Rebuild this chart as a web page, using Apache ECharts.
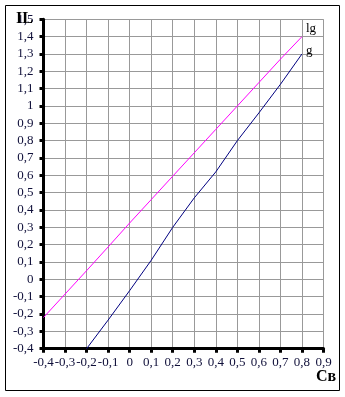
<!DOCTYPE html>
<html><head><meta charset="utf-8">
<script src="https://cdn.jsdelivr.net/npm/echarts@6/dist/echarts.min.js"></script>
<style>html,body{margin:0;padding:0;background:#fff}#c{width:345px;height:397px}</style>
</head><body><div id="c"></div>
<script>
var xLg = [-0.4,-0.3,-0.2,-0.1,0,0.1,0.2,0.3,0.4,0.5,0.6,0.7,0.8];
var lgValues = [-0.22,-0.085,0.05,0.187,0.325,0.46,0.595,0.73,0.865,1.0,1.135,1.27,1.40];
var xG = [-0.2,-0.1,0,0.1,0.2,0.3,0.4,0.5,0.6,0.7,0.8];
var gValues = [-0.4,-0.235,-0.065,0.11,0.30,0.47,0.62,0.80,0.96,1.125,1.30];
var seriesNames = ['lg','g'];
var yTitle = 'IL';
var xTitle = 'Св';

function fmt(v){ var r = Math.round(v*10)/10; return String(r).replace('.', ','); }
function pairs(xs, ys){ return xs.map(function(x,i){ return [x, ys[i]]; }); }

var font = 'Liberation Serif';
var chart = echarts.init(document.getElementById('c'), null, {renderer:'canvas'});
chart.setOption({
  animation:false,
  grid:{left:43.5, top:19.3, width:280, height:329.4, containLabel:false},
  xAxis:{type:'value', min:-0.4, max:0.9, interval:0.1,
    axisLine:{onZero:false, lineStyle:{color:'#000', width:3}},
    axisTick:{show:true, length:4, lineStyle:{color:'#000', width:3}},
    axisLabel:{formatter:fmt, color:'#10103a', fontFamily:font, fontSize:13, margin:7},
    splitLine:{show:true, lineStyle:{color:'#999', width:1}}},
  yAxis:{type:'value', min:-0.4, max:1.5, interval:0.1,
    axisLine:{show:true, onZero:false, lineStyle:{color:'#000', width:3}},
    axisTick:{show:true, length:4, lineStyle:{color:'#000', width:3}},
    axisLabel:{formatter:fmt, color:'#10103a', fontFamily:font, fontSize:13, margin:10},
    splitLine:{show:true, lineStyle:{color:'#999', width:1}}},
  series:[
    {name:seriesNames[0], type:'line', data:pairs(xLg, lgValues), showSymbol:false, symbol:'none',
     lineStyle:{color:'#ff00ff', width:1}, itemStyle:{color:'#ff00ff'},
     endLabel:{show:true, formatter:'{a}', color:'#000', fontFamily:font, fontSize:13, distance:4, offset:[0,-8]}},
    {name:seriesNames[1], type:'line', data:pairs(xG, gValues), showSymbol:false, symbol:'none',
     lineStyle:{color:'#000080', width:1}, itemStyle:{color:'#000080'},
     endLabel:{show:true, formatter:'{a}', color:'#000', fontFamily:font, fontSize:13, distance:4, offset:[0,-3]}}
  ],
  graphic:[
    {type:'rect', shape:{x:5.5, y:5.5, width:334, height:385}, style:{fill:null, stroke:'#000', lineWidth:1}, silent:true, z:-1},
    {type:'text', left:16, top:11, style:{text:yTitle, font:'bold 16px "Liberation Serif"', fill:'#000'}, z:100},
    {type:'text', left:316, top:369, style:{text:xTitle, font:'bold 16px "Liberation Serif"', fill:'#000'}, z:100}
  ]
});
</script></body></html>
